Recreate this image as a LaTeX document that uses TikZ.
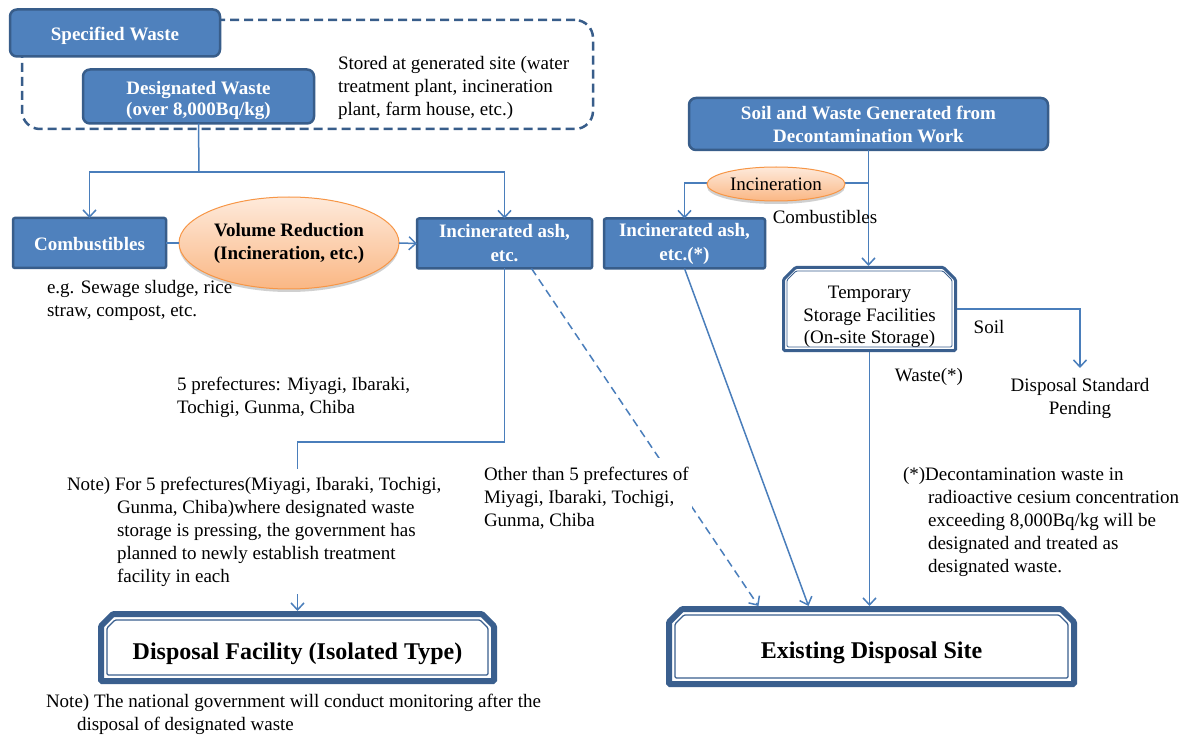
\documentclass[tikz,border=0pt]{standalone}
\usepackage{fontspec}
\setmainfont{Liberation Serif}
\usetikzlibrary{arrows.meta,shapes.geometric,shadows,calc}
\definecolor{bfill}{HTML}{4F81BD}
\definecolor{bdr}{HTML}{385D8A}
\definecolor{ln}{HTML}{4A7EBB}
\definecolor{frm}{HTML}{3A5F8E}
\definecolor{ofillA}{HTML}{FEEADB}
\definecolor{ofillB}{HTML}{FAB784}
\definecolor{obdr}{HTML}{F79646}
% chamfered frame drawn around a named node: node, inset, cut, line width
\newcommand\chfr[4]{\draw[frm, line width=#4, rounded corners=1.2pt]
  ($(#1.north west)+(#2+#3,#2)$) -- ($(#1.north east)+(-#2-#3,#2)$) --
  ($(#1.north east)+(-#2,#2+#3)$) -- ($(#1.south east)+(-#2,-#2)$) --
  ($(#1.south west)+(#2,-#2)$) -- ($(#1.north west)+(#2,#2+#3)$) -- cycle;}
\newcommand\lowr[2]{\raisebox{-#1pt}[0pt][0pt]{#2}}
\begin{document}
\begin{tikzpicture}[x=1pt,y=-1pt,
  every node/.style={inner sep=0pt, outer sep=0pt},
  txt/.style={font=\fontsize{19}{23}\selectfont, align=left},
  bluebox/.style={draw=bdr, line width=2.5pt, fill=bfill, text=white,
    font=\bfseries\fontsize{19}{22}\selectfont, align=center},
  conn/.style={draw=ln, line width=1.5pt},
  arr/.style={conn, -{Straight Barb[length=7pt,width=13pt]}},
  oval/.style={ellipse, draw=obdr, line width=1pt, top color=ofillA, bottom color=ofillB,
    drop shadow={shadow xshift=0pt, shadow yshift=-3pt, opacity=0.3, fill=black!60}},
  framebox/.style={fill=white, align=center},
]
\useasboundingbox[fill=white] (0,0) rectangle (1187,738);

% dashed group
\node[draw=bdr, line width=2.5pt, dash pattern=on 9pt off 5pt, rounded corners=18pt,
  minimum width=571pt, minimum height=109pt] (grp) at (307.5,74.5) {};

% left boxes
\node[bluebox, rounded corners=7pt, minimum width=210pt, minimum height=47pt] (sw) at (115,33) {\lowr{7.5}{Specified Waste}};
\node[bluebox, rounded corners=7pt, minimum width=231pt, minimum height=54pt] (dw) at (198.5,96.5) {\lowr{8}{\begin{tabular}{@{}c@{}}Designated Waste\\[-1pt](over 8,000Bq/kg)\end{tabular}}};
\node[txt, anchor=north west] (stored) at (338,56) {Stored at generated site (water\\treatment plant, incineration\\plant, farm house, etc.)};

\node[bluebox, rounded corners=2pt, minimum width=153pt, minimum height=50pt] (comb) at (89.5,243) {\lowr{7.5}{Combustibles}};
\node[bluebox, rounded corners=2pt, minimum width=175pt, minimum height=50pt, font=\bfseries\fontsize{19}{24}\selectfont] (ash) at (504.5,243.5) {Incinerated ash,\\etc.};
\node[oval, minimum width=220pt, minimum height=92pt, font=\bfseries\fontsize{19}{23}\selectfont, align=center] (vr) at (289,243) {Volume Reduction\\(Incineration, etc.)};
\node[txt, anchor=north west] (eg) at (47,280) {e.g. Sewage sludge, rice\\straw, compost, etc.};

% right boxes
\node[bluebox, rounded corners=7pt, minimum width=359pt, minimum height=52pt, font=\bfseries\fontsize{19}{23}\selectfont] (soil) at (868.5,124) {Soil and Waste Generated from\\Decontamination Work};
\node[bluebox, rounded corners=2pt, minimum width=161pt, minimum height=50pt, font=\bfseries\fontsize{19}{24}\selectfont] (ash2) at (684.5,243.5) {Incinerated ash,\\etc.(*)};

\node[framebox, minimum width=175pt, minimum height=86pt, font=\fontsize{19}{22.5}\selectfont] (temp) at (869.5,309)
  {\lowr{12}{\begin{tabular}{@{}c@{}}Temporary\\Storage Facilities\\(On-site Storage)\end{tabular}}};
\chfr{temp}{1.5}{12}{3pt}
\chfr{temp}{5}{9}{0.9pt}

\node[framebox, minimum width=399pt, minimum height=73pt, font=\bfseries\fontsize{24}{28}\selectfont] (df) at (297.5,647.5)
  {\lowr{11.5}{Disposal Facility (Isolated Type)}};
\chfr{df}{3}{12}{6pt}
\chfr{df}{9}{8}{1.3pt}

\node[framebox, minimum width=411pt, minimum height=81pt, font=\bfseries\fontsize{24}{28}\selectfont] (ex) at (871.5,646.5)
  {\lowr{11.5}{Existing Disposal Site}};
\chfr{ex}{3}{13}{6pt}
\chfr{ex}{9}{9}{1.3pt}

\node[txt, align=center, anchor=north] (dsp) at (1080,378) {Disposal Standard\\Pending};

% connectors left
\coordinate (j1) at (199,172);
\draw[conn] (dw.south) -- (j1);
\draw[arr] (j1) -| (comb.north);
\draw[arr] (j1) -| (ash.north);
\draw[conn] (comb.east) -- (vr.west);
\draw[arr] (vr.east) -- (ash.west);
\coordinate (b2) at (297.5,442);
\draw[arr] (ash.south) |- (b2) -- (df.north);
\draw[arr, dash pattern=on 8pt off 5pt] ([xshift=27pt]ash.south) -- ([xshift=-113pt]ex.north);

% connectors right
\coordinate (j2) at (868.5,183);
\draw[conn] (soil.south) -- (j2);
\draw[arr] (j2) -- (j2 |- temp.north);
\draw[arr] (j2) -| (ash2.north);
\draw[arr] (ash2.south) -- ([xshift=-63pt]ex.north);
\draw[arr] (temp.east) -| ([yshift=10pt]dsp.north);
\draw[arr] (temp.south) -- (temp.south |- ex.north);

\node[oval, minimum width=138pt, minimum height=34pt, font=\fontsize{19}{23}\selectfont] (inc) at (776,184) {Incineration};
\node[txt] (combl) at (825,217) {Combustibles};
\node[txt] (soill) at (989,327) {Soil};
\node[txt] (wastel) at (929,377) {Waste(*)};

% notes
\node[txt, anchor=north west] (pref) at (177,377) {5 prefectures: Miyagi, Ibaraki,\\Tochigi, Gunma, Chiba};
\node[txt, anchor=north west, fill=white, inner xsep=3pt, inner ysep=8pt] (note1) at (64,469) {Note) For 5 prefectures(Miyagi, Ibaraki, Tochigi,\\\hspace*{50pt}Gunma, Chiba)where designated waste\\\hspace*{50pt}storage is pressing, the government has\\\hspace*{50pt}planned to newly establish treatment\\\hspace*{50pt}facility in each};
\node[txt, anchor=north west, fill=white, inner xsep=3pt, inner ysep=9pt] (other) at (481,458) {Other than 5 prefectures of\\Miyagi, Ibaraki, Tochigi,\\Gunma, Chiba};
\node[txt, anchor=north west] (star) at (903,467) {(*)Decontamination waste in\\\hspace*{25pt}radioactive cesium concentration\\\hspace*{25pt}exceeding 8,000Bq/kg will be\\\hspace*{25pt}designated and treated as\\\hspace*{25pt}designated waste.};
\node[txt, anchor=north west] (note2) at (46,694) {Note) The national government will conduct monitoring after the\\\hspace*{31pt}disposal of designated waste};
\end{tikzpicture}
\end{document}
